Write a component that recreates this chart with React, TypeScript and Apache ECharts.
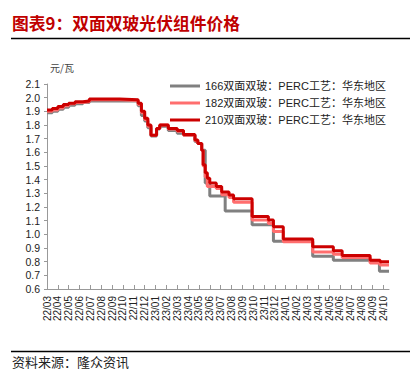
import React, { useEffect, useRef } from 'react';
import * as echarts from 'echarts';

const titleText = '图表9：双面双玻光伏组件价格';
const sourceText = '资料来源：隆众资讯';
const unitText = '元/瓦';

const monthLabels = [
  '22/03', '22/04', '22/05', '22/06', '22/07', '22/08', '22/09', '22/10', '22/11', '22/12',
  '23/01', '23/02', '23/03', '23/04', '23/05', '23/06', '23/07', '23/08', '23/09', '23/10', '23/11', '23/12',
  '24/01', '24/02', '24/03', '24/04', '24/05', '24/06', '24/07', '24/08', '24/09', '24/10',
];

const seriesNames = [
  '166双面双玻：PERC工艺：华东地区',
  '182双面双玻：PERC工艺：华东地区',
  '210双面双玻：PERC工艺：华东地区',
];

const endDate = '2024-10-17';

const dates166 = [
  '2022-03-01', '2022-03-16', '2022-04-01', '2022-04-16', '2022-05-01', '2022-05-19', '2022-06-10', '2022-06-28',
  '2022-11-13', '2022-11-22', '2022-12-01', '2022-12-10', '2022-12-19', '2023-01-04', '2023-01-13', '2023-02-06',
  '2023-03-01', '2023-03-19', '2023-04-20', '2023-04-28', '2023-05-09', '2023-05-19', '2023-06-01', '2023-07-14',
  '2023-09-28', '2023-11-27', '2024-03-16', '2024-05-13', '2024-08-25', '2024-09-20', endDate,
];
const values166 = [
  1.89, 1.90, 1.915, 1.93, 1.945, 1.955, 1.965, 1.975,
  1.94, 1.87, 1.83, 1.78, 1.72, 1.77, 1.79, 1.76,
  1.74, 1.725, 1.68, 1.665, 1.615, 1.375, 1.28, 1.17,
  1.07, 0.95, 0.84, 0.81, 0.80, 0.73, 0.73,
];

const dates182 = [
  '2022-03-01', '2022-03-16', '2022-04-01', '2022-04-16', '2022-05-01', '2022-05-19', '2022-06-10', '2022-06-28',
  '2022-09-22', '2022-11-13', '2022-11-22', '2022-12-01', '2022-12-10', '2022-12-19', '2023-01-04', '2023-01-13',
  '2023-02-06', '2023-03-01', '2023-03-19', '2023-04-20', '2023-04-28', '2023-05-09', '2023-05-13', '2023-05-19',
  '2023-05-25', '2023-06-19', '2023-07-04', '2023-07-25', '2023-08-07', '2023-09-28', '2023-11-13', '2023-11-27',
  '2023-12-25', '2024-03-16', '2024-05-13', '2024-06-07', '2024-08-25', '2024-09-22', endDate,
];
const values182 = [
  1.90, 1.91, 1.925, 1.94, 1.955, 1.965, 1.97, 1.985,
  1.98, 1.95, 1.89, 1.84, 1.79, 1.725, 1.775, 1.80,
  1.77, 1.755, 1.725, 1.685, 1.665, 1.615, 1.50, 1.42,
  1.35, 1.335, 1.29, 1.27, 1.235, 1.105, 1.08, 1.02,
  0.946, 0.87, 0.855, 0.83, 0.79, 0.775, 0.775,
];

const dates210 = [
  '2022-03-01', '2022-03-16', '2022-04-01', '2022-04-16', '2022-05-01', '2022-05-19', '2022-06-10', '2022-06-28',
  '2022-09-22', '2022-11-13', '2022-11-22', '2022-12-01', '2022-12-10', '2022-12-19', '2023-01-04', '2023-01-13',
  '2023-02-06', '2023-03-01', '2023-03-19', '2023-04-20', '2023-04-28', '2023-05-09', '2023-05-13', '2023-05-19',
  '2023-05-25', '2023-06-01', '2023-06-19', '2023-07-04', '2023-07-25', '2023-08-07', '2023-09-28', '2023-11-13',
  '2023-11-27', '2023-12-25', '2024-03-16', '2024-05-13', '2024-06-07', '2024-08-25', '2024-09-22', endDate,
];
const values210 = [
  1.91, 1.92, 1.935, 1.95, 1.96, 1.97, 1.975, 1.99,
  1.985, 1.96, 1.90, 1.85, 1.80, 1.725, 1.775, 1.80,
  1.775, 1.76, 1.73, 1.69, 1.665, 1.615, 1.51, 1.45,
  1.41, 1.375, 1.35, 1.31, 1.288, 1.26, 1.13, 1.105,
  1.055, 0.965, 0.91, 0.88, 0.845, 0.81, 0.80, 0.80,
];

const seriesColors = ['#808080', '#ff6e6e', '#cc0000'];

function monthIndex(d: string): number {
  const [y, m, day] = d.split('-').map(Number);
  const dim = new Date(y, m, 0).getDate();
  return (y - 2022) * 12 + (m - 3) + (day - 1) / dim;
}

function toPairs(dates: string[], values: number[]) {
  return dates.map((d, i) => [monthIndex(d), values[i]]);
}

const FONT = 'Liberation Sans, Arial, Noto Sans CJK SC, sans-serif';
const CJK = 'Noto Sans CJK SC, sans-serif';

export default function App() {
  const ref = useRef<HTMLDivElement>(null);

  useEffect(() => {
    document.body.style.margin = '0';
    if (!ref.current) return;
    const chart = echarts.init(ref.current, null, { renderer: 'svg' });
    const tickValues = monthLabels.map((_, i) => i);
    const allData = [toPairs(dates166, values166), toPairs(dates182, values182), toPairs(dates210, values210)];

    chart.setOption({
      animation: false,
      backgroundColor: '#ffffff',
      graphic: [
        {
          type: 'text', left: 12, top: 15,
          style: { text: titleText, fill: '#c00000', font: `bold 16.8px ${CJK}` },
        },
        {
          type: 'line', shape: { x1: 11, y1: 38.5, x2: 410, y2: 38.5 },
          style: { stroke: '#000', lineWidth: 1.3 },
        },
        {
          type: 'text', left: 50, top: 62,
          style: { text: unitText, fill: '#444', font: `10px ${CJK}` },
        },
        {
          type: 'line', shape: { x1: 11, y1: 351.5, x2: 410, y2: 351.5 },
          style: { stroke: '#000', lineWidth: 1.3 },
        },
        {
          type: 'text', left: 12, top: 355,
          style: { text: sourceText, fill: '#222', font: `13px ${CJK}` },
        },
      ],
      legend: {
        orient: 'vertical',
        left: 165,
        top: 75,
        icon: 'rect',
        itemWidth: 30,
        itemHeight: 3,
        itemGap: 5,
        data: seriesNames,
        textStyle: { fontSize: 11, color: '#222', fontFamily: FONT, lineHeight: 12 },
      },
      grid: { left: 47, right: 27, top: 84, bottom: 95 },
      xAxis: {
        type: 'value',
        min: 0,
        max: monthIndex(endDate),
        splitLine: { show: false },
        axisLine: { show: true, lineStyle: { color: '#999', width: 1 } },
        axisTick: { show: true, inside: true, length: 4, customValues: tickValues, lineStyle: { color: '#999' } },
        axisLabel: {
          customValues: tickValues,
          rotate: 90,
          margin: 7,
          fontSize: 10,
          color: '#222',
          fontFamily: FONT,
          formatter: (v: number) => monthLabels[Math.round(v)] ?? '',
        },
      },
      yAxis: {
        type: 'value',
        min: 0.6,
        max: 2.1,
        interval: 0.1,
        splitLine: { show: false },
        axisLine: { show: true, lineStyle: { color: '#999', width: 1 } },
        axisTick: { show: true, inside: false, length: 3, lineStyle: { color: '#999' } },
        axisLabel: {
          margin: 7,
          fontSize: 10.5,
          color: '#222',
          fontFamily: FONT,
          formatter: (v: number) => v.toFixed(1),
        },
      },
      series: seriesNames.map((name, i) => ({
        name,
        type: 'line',
        step: 'end',
        symbol: 'none',
        data: allData[i],
        lineStyle: { width: 3, color: seriesColors[i] },
        itemStyle: { color: seriesColors[i] },
        z: 2 + i,
      })),
    });

    return () => chart.dispose();
  }, []);

  return <div ref={ref} style={{ width: 416, height: 384 }} />;
}
